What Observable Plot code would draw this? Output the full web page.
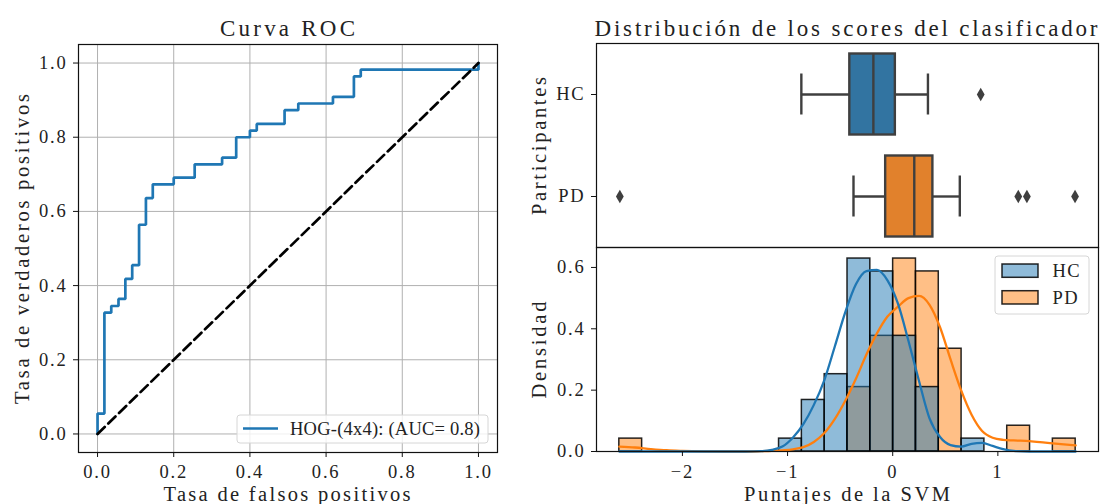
<!DOCTYPE html>
<html><head><meta charset="utf-8">
<script src="https://cdn.jsdelivr.net/npm/d3@7"></script>
<script src="https://cdn.jsdelivr.net/npm/@observablehq/plot@0.6"></script>
<style>
body{margin:0;background:#fff;}
#root{position:relative;width:1100px;height:504px;overflow:hidden;font-family:"Liberation Serif",serif;background:#fff;}
.panel{position:absolute;}
.panel svg text{letter-spacing:1.8px;}
#overlay{position:absolute;left:0;top:0;pointer-events:none;}
</style></head>
<body>
<div id="root">
  <div class="panel" id="roc" style="left:0;top:0"></div>
  <div class="panel" id="box" style="left:520px;top:0"></div>
  <div class="panel" id="hist" style="left:520px;top:246px"></div>
</div>
<script>
// ---------- ROC data ----------
const fpr = [0, 0, 0.018, 0.018, 0.036, 0.036, 0.055, 0.055, 0.073, 0.073, 0.091, 0.091, 0.109, 0.109, 0.127, 0.127, 0.145, 0.145, 0.2, 0.2, 0.255, 0.255, 0.327, 0.327, 0.364, 0.364, 0.4, 0.4, 0.418, 0.418, 0.491, 0.491, 0.527, 0.527, 0.618, 0.618, 0.673, 0.673, 0.691, 0.691, 1.0, 1.0];
const tpr = [0, 0.055, 0.055, 0.327, 0.327, 0.345, 0.345, 0.364, 0.364, 0.418, 0.418, 0.455, 0.455, 0.564, 0.564, 0.636, 0.636, 0.673, 0.673, 0.691, 0.691, 0.727, 0.727, 0.745, 0.745, 0.8, 0.8, 0.818, 0.818, 0.836, 0.836, 0.873, 0.873, 0.891, 0.891, 0.909, 0.909, 0.964, 0.964, 0.982, 0.982, 1.0];
const chanceX = [0, 1];
const chanceY = [0, 1];
const rocTicks = [0, 0.2, 0.4, 0.6, 0.8, 1.0];
const rocLegendLabel = "HOG-(4x4): (AUC= 0.8)";

// ---------- Boxplot data ----------
const groups = ["HC", "PD"];
const whiskerLow = [-0.869, -0.373];
const q1 = [-0.408, -0.067];
const median = [-0.184, 0.205];
const q3 = [0.025, 0.382];
const whiskerHigh = [0.335, 0.638];
const outlierGroup = ["HC", "PD", "PD", "PD", "PD"];
const outlierValue = [0.837, -2.595, 1.194, 1.276, 1.734];
const boxFill = ["#3274a1", "#e1812c"];

// ---------- Histogram data (density) ----------
const binEdges = [-2.600, -2.383, -2.166, -1.949, -1.732, -1.515, -1.298, -1.081, -0.864, -0.647, -0.430, -0.213, 0.004, 0.221, 0.438, 0.655, 0.872, 1.089, 1.306, 1.523, 1.740];
const hcDensity = [0, 0, 0, 0, 0, 0, 0, 0.042, 0.168, 0.252, 0.629, 0.587, 0.377, 0.210, 0, 0.042, 0, 0, 0, 0];
const pdDensity = [0.042, 0, 0, 0, 0, 0, 0, 0, 0, 0, 0.210, 0.377, 0.629, 0.587, 0.335, 0, 0, 0.084, 0, 0.042];
const kdeX = [-2.60, -2.45, -2.30, -2.15, -2.00, -1.80, -1.60, -1.40, -1.25, -1.15, -1.05, -0.95, -0.85, -0.75, -0.65, -0.55, -0.45, -0.35, -0.25, -0.15, -0.05, 0.05, 0.15, 0.25, 0.35, 0.45, 0.55, 0.65, 0.75, 0.85, 0.95, 1.05, 1.15, 1.30, 1.45, 1.60, 1.74];
const hcKde = [0, 0, 0, 0, 0, 0, 0, 0, 0.001, 0.005, 0.016, 0.045, 0.089, 0.152, 0.233, 0.343, 0.455, 0.545, 0.588, 0.592, 0.558, 0.482, 0.360, 0.230, 0.108, 0.047, 0.021, 0.016, 0.025, 0.028, 0.018, 0.008, 0.002, 0, 0, 0, 0];
const pdKde = [0.016, 0.013, 0.008, 0.004, 0.002, 0.0005, 0, 0, 0.001, 0.002, 0.004, 0.007, 0.014, 0.031, 0.060, 0.106, 0.166, 0.237, 0.316, 0.385, 0.440, 0.472, 0.500, 0.507, 0.478, 0.405, 0.300, 0.200, 0.120, 0.067, 0.045, 0.038, 0.036, 0.034, 0.029, 0.024, 0.020];
const histXTicks = [-2, -1, 0, 1];
const histYTicks = [0, 0.2, 0.4, 0.6];
const seriesNames = ["HC", "PD"];
const seriesColors = ["#1f77b4", "#ff7f0e"];

// ---------- Text ----------
const titleLeft = "Curva ROC";
const titleRight = "Distribución de los scores del clasificador";
const rocXLabel = "Tasa de falsos positivos";
const rocYLabel = "Tasa de verdaderos positivos";
const boxYLabel = "Participantes";
const histYLabel = "Densidad";
const histXLabel = "Puntajes de la SVM";

const font = "'Liberation Serif', serif";
const baseStyle = {fontFamily: font, fontSize: "18.5px", color: "#222", background: "transparent", overflow: "visible"};
const xDom = [-2.817, 1.957];

// ROC
const rocRows = fpr.map((f, i) => ({fpr: f, tpr: tpr[i]}));
const diagRows = chanceX.map((x, i) => ({x, y: chanceY[i]}));
const roc = Plot.plot({
  width: 520, height: 504, marginLeft: 78, marginRight: 23, marginTop: 44, marginBottom: 52,
  style: baseStyle,
  x: {domain: [-0.05, 1.05]},
  y: {domain: [-0.05, 1.05]},
  marks: [
    Plot.gridX(rocTicks, {stroke: "#b0b0b0", strokeOpacity: 1, strokeWidth: 1}),
    Plot.gridY(rocTicks, {stroke: "#b0b0b0", strokeOpacity: 1, strokeWidth: 1}),
    Plot.line(rocRows, {x: "fpr", y: "tpr", stroke: "#1f77b4", strokeWidth: 2.7, strokeLinejoin: "miter"}),
    Plot.line(diagRows, {x: "x", y: "y", stroke: "black", strokeWidth: 2.7, strokeDasharray: "10,5"}),
    Plot.axisX(rocTicks, {tickSize: 5, tickPadding: 7, tickFormat: d3.format(".1f"), label: null, stroke: "#111"}),
    Plot.axisY(rocTicks, {tickSize: 5, tickPadding: 6, tickFormat: d3.format(".1f"), label: null, stroke: "#111"}),
    Plot.frame({stroke: "#111", strokeWidth: 1.2})
  ]
});
document.getElementById("roc").append(roc);

// Boxplot
const boxRows = groups.map((g, i) => ({g, lo: whiskerLow[i], q1: q1[i], med: median[i], q3: q3[i], hi: whiskerHigh[i]}));
const outRows = outlierGroup.map((g, i) => ({g, v: outlierValue[i]}));
const edge = "#3f3f3f";
const lw = 2.4;
const box = Plot.plot({
  width: 580, height: 248, marginLeft: 76, marginRight: 2, marginTop: 43, marginBottom: 1,
  style: baseStyle,
  x: {domain: xDom, axis: null},
  y: {type: "band", domain: groups, padding: 0, axis: null},
  color: {domain: groups, range: boxFill},
  marks: [
    Plot.ruleY(boxRows, {y: "g", x1: "lo", x2: "q1", stroke: edge, strokeWidth: lw}),
    Plot.ruleY(boxRows, {y: "g", x1: "q3", x2: "hi", stroke: edge, strokeWidth: lw}),
    Plot.tickX(boxRows, {x: "lo", y: "g", insetTop: 30.5, insetBottom: 30.5, stroke: edge, strokeWidth: lw}),
    Plot.tickX(boxRows, {x: "hi", y: "g", insetTop: 30.5, insetBottom: 30.5, stroke: edge, strokeWidth: lw}),
    Plot.barX(boxRows, {x1: "q1", x2: "q3", y: "g", fill: "g", stroke: edge, strokeWidth: lw, insetTop: 10.5, insetBottom: 10.5}),
    Plot.tickX(boxRows, {x: "med", y: "g", insetTop: 10.5, insetBottom: 10.5, stroke: edge, strokeWidth: lw}),
    Plot.dot(outRows, {x: "v", y: "g", symbol: "diamond", r: 4.1, fill: edge, stroke: "none"}),
    Plot.axisY(groups, {tickSize: 5, tickPadding: 6, label: null, stroke: "#111"}),
    Plot.frame({stroke: "#111", strokeWidth: 1.2})
  ]
});
document.getElementById("box").append(box);

// Histogram
const hcRows = hcDensity.map((d, i) => ({x1: binEdges[i], x2: binEdges[i + 1], d})).filter(r => r.d > 0);
const pdRows = pdDensity.map((d, i) => ({x1: binEdges[i], x2: binEdges[i + 1], d})).filter(r => r.d > 0);
const hcLine = kdeX.map((x, i) => ({x, y: hcKde[i]}));
const pdLine = kdeX.map((x, i) => ({x, y: pdKde[i]}));
const hist = Plot.plot({
  width: 580, height: 258, marginLeft: 76, marginRight: 2, marginTop: 1, marginBottom: 53,
  style: baseStyle,
  x: {domain: xDom},
  y: {domain: [0, 0.665]},
  marks: [
    Plot.rectY(pdRows, {x1: "x1", x2: "x2", y1: 0, y2: "d", fill: seriesColors[1], fillOpacity: 0.5, stroke: "#000", strokeOpacity: 0.85, strokeWidth: 1.5}),
    Plot.rectY(hcRows, {x1: "x1", x2: "x2", y1: 0, y2: "d", fill: seriesColors[0], fillOpacity: 0.5, stroke: "#000", strokeOpacity: 0.85, strokeWidth: 1.5}),
    Plot.line(pdLine, {x: "x", y: "y", stroke: seriesColors[1], strokeWidth: 2.3, curve: "monotone-x"}),
    Plot.line(hcLine, {x: "x", y: "y", stroke: seriesColors[0], strokeWidth: 2.3, curve: "monotone-x"}),
    Plot.axisX(histXTicks, {tickSize: 5, tickPadding: 8, label: null, stroke: "#111"}),
    Plot.axisY(histYTicks, {tickSize: 5, tickPadding: 6, tickFormat: d3.format(".1f"), label: null, stroke: "#111"}),
    Plot.frame({stroke: "#111", strokeWidth: 1.2})
  ]
});
document.getElementById("hist").append(hist);

// ---------- Overlay: titles, axis labels, legends ----------
const ov = d3.select("#root").append("svg").attr("id", "overlay").attr("width", 1100).attr("height", 504)
  .attr("font-family", font).attr("fill", "#222");
function txt(s, x, y, size, len, rot) {
  const t = ov.append("text").text(s).attr("font-size", size).attr("text-anchor", "middle")
    .attr("textLength", len).attr("lengthAdjust", "spacing");
  if (rot) t.attr("transform", `translate(${x},${y}) rotate(-90)`);
  else t.attr("x", x).attr("y", y);
  return t;
}
txt(titleLeft, 287.5, 36, 23, 135);
txt(titleRight, 846, 36, 23, 503);
txt(rocXLabel, 287, 501, 20.5, 247);
txt(histXLabel, 847, 501, 20.5, 206);
txt(rocYLabel, 29, 249, 20.5, 310, true);
txt(boxYLabel, 546, 146, 20.5, 138, true);
txt(histYLabel, 546, 350, 20.5, 97, true);

// ROC legend
ov.append("rect").attr("x", 237).attr("y", 415).attr("width", 251).attr("height", 28).attr("rx", 3)
  .attr("fill", "white").attr("fill-opacity", 0.8).attr("stroke", "#d6d6d6");
ov.append("line").attr("x1", 243).attr("x2", 278).attr("y1", 428.5).attr("y2", 428.5)
  .attr("stroke", "#1f77b4").attr("stroke-width", 2.7);
ov.append("text").text(rocLegendLabel).attr("x", 290).attr("y", 434.5).attr("font-size", 18.5)
  .attr("textLength", 190).attr("lengthAdjust", "spacing");

// Histogram legend
ov.append("rect").attr("x", 995).attr("y", 256).attr("width", 94).attr("height", 58).attr("rx", 3)
  .attr("fill", "white").attr("fill-opacity", 0.8).attr("stroke", "#d6d6d6");
seriesNames.forEach((name, i) => {
  const y0 = 264 + i * 26.7;
  ov.append("rect").attr("x", 1002).attr("y", y0).attr("width", 36).attr("height", 13.3)
    .attr("fill", seriesColors[i]).attr("fill-opacity", 0.5).attr("stroke", "#000").attr("stroke-opacity", 0.85).attr("stroke-width", 1.5);
  ov.append("text").text(name).attr("x", 1052.5).attr("y", y0 + 13.3).attr("font-size", 18.5)
    .attr("textLength", i === 0 ? 27 : 25).attr("lengthAdjust", "spacing");
});
</script>
</body></html>
